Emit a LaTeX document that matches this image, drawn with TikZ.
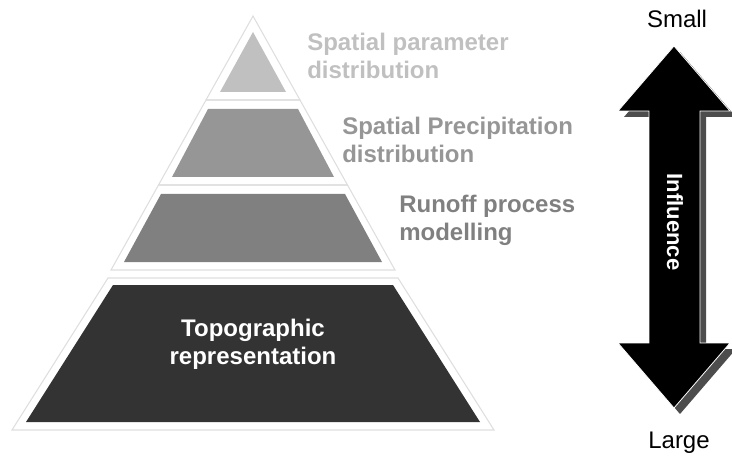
\documentclass[tikz,border=0pt]{standalone}
\usepackage{fontspec}
\setmainfont{Liberation Sans}
\definecolor{frameC}{HTML}{DEDEDE}
\definecolor{layA}{HTML}{C0C0C0}
\definecolor{layB}{HTML}{969696}
\definecolor{layC}{HTML}{808080}
\definecolor{layD}{HTML}{333333}
\definecolor{shadowC}{HTML}{4D4D4D}
\tikzset{
  frameline/.style={draw=frameC, line width=0.8pt},
  lbl/.style={font=\fontsize{18}{21}\selectfont\bfseries, align=left, anchor=base west, inner sep=0pt},
  endlbl/.style={font=\fontsize{18}{21}\selectfont, anchor=base, inner sep=0pt},
}
\begin{document}
\begin{tikzpicture}[x=0.75pt, y=-0.75pt]
\useasboundingbox (0,0) rectangle (732,456);
% frames
\draw[frameline] (253,16) -- (300,100) -- (206,100) -- cycle;
\draw[frameline] (206,100) -- (300,100) -- (347.5,185) -- (158.5,185) -- cycle;
\draw[frameline] (158.5,185) -- (347.5,185) -- (395,270) -- (111,270) -- cycle;
\draw[frameline] (108,278) -- (398,278) -- (494,430) -- (12,430) -- cycle;
% layers
\fill[layA] (253,32) -- (286,92) -- (220,92) -- cycle;
\fill[layB] (208,109) -- (298,109) -- (334,177) -- (172,177) -- cycle;
\fill[layC] (161,194) -- (345,194) -- (382,262) -- (124,262) -- cycle;
\fill[layD] (113,285) -- (393,285) -- (480,422) -- (26,422) -- cycle;
% labels (base anchor = last line baseline)
\node[lbl, text=layA] (l1) at (307,79) {Spatial parameter\\distribution};
\node[lbl, text=layB] (l2) at (342,163) {Spatial Precipitation\\distribution};
\node[lbl, text=layC] (l3) at (399,241) {Runoff process\\modelling};
\node[lbl, text=white, align=center, anchor=base] (l4) at (253,364) {Topographic\\representation};
% arrow shadow
\fill[shadowC, shift={(6,6)}] (674,46) -- (730,111) -- (700,111) -- (700,343) -- (730,343) -- (674,408) -- (618,343) -- (649,343) -- (649,111) -- (618,111) -- cycle;
% arrow
\filldraw[fill=black, draw=white, line width=0.6pt] (674,46) -- (730,111) -- (700,111) -- (700,343) -- (730,343) -- (674,408) -- (618,343) -- (649,343) -- (649,111) -- (618,111) -- cycle;
\node[font=\fontsize{16.5}{18}\selectfont\bfseries, text=white, rotate=-90, inner sep=0pt] (infl) at (675,222) {Influence};
\node[endlbl] (small) at (677,28) {Small};
\node[endlbl] (large) at (679,448) {Large};
\end{tikzpicture}
\end{document}
